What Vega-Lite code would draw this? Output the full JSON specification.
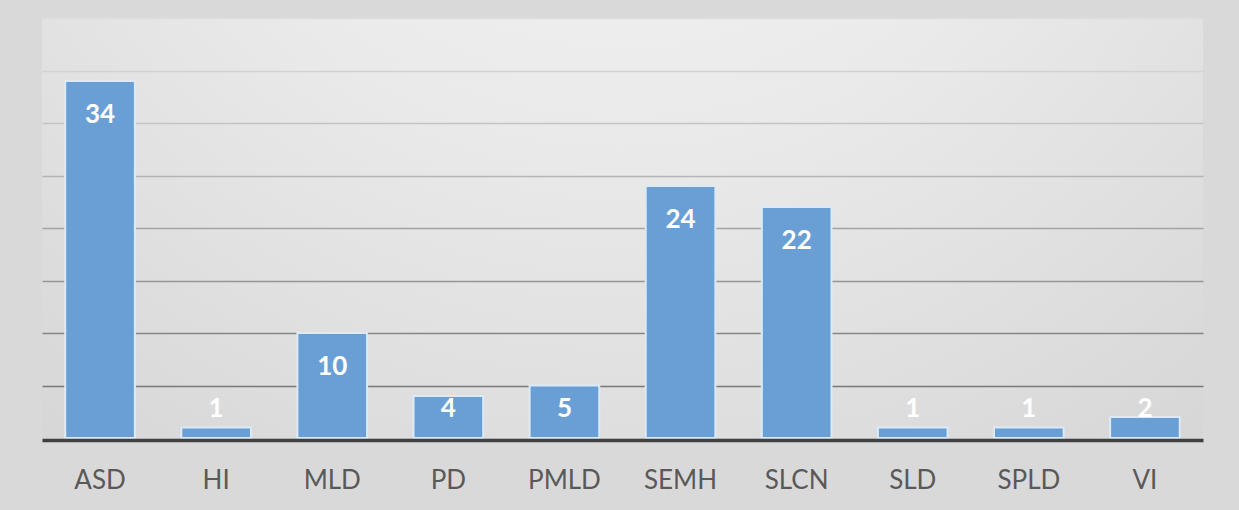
{
  "$schema": "https://vega.github.io/schema/vega-lite/v6.json",
  "width": 1161,
  "height": 420,
  "autosize": {"type": "none"},
  "padding": {"left": 42, "top": 18, "right": 36, "bottom": 72},
  "background": "#d9d9d9",
  "view": {
    "stroke": null,
    "fill": {"expr": "{gradient: 'radial', x1: 0.5, y1: 0, r1: 0, x2: 0.5, y2: 0, r2: 1.05, stops: [{offset: 0, color: '#f8f8f8'}, {offset: 0.4, color: '#eaeaea'}, {offset: 1, color: '#cdcdcd'}]}"}
  },
  "data": {
    "values": [
      {"category": "ASD", "value": 34},
      {"category": "HI", "value": 1},
      {"category": "MLD", "value": 10},
      {"category": "PD", "value": 4},
      {"category": "PMLD", "value": 5},
      {"category": "SEMH", "value": 24},
      {"category": "SLCN", "value": 22},
      {"category": "SLD", "value": 1},
      {"category": "SPLD", "value": 1},
      {"category": "VI", "value": 2}
    ]
  },
  "encoding": {
    "x": {
      "field": "category",
      "type": "nominal",
      "sort": null,
      "scale": {"paddingInner": 0.4, "paddingOuter": 0.2},
      "axis": {
        "title": null,
        "labelAngle": 0,
        "ticks": false,
        "grid": false,
        "domainColor": "#404040",
        "domainWidth": 3.5,
        "offset": 2,
        "zindex": 1,
        "labelPadding": 27,
        "labelFont": "Lato",
        "labelFontSize": 26,
        "labelColor": "#595959"
      }
    }
  },
  "layer": [
    {
      "mark": {"type": "bar", "fill": "#6a9fd5", "stroke": "#dceaf7", "strokeWidth": 2},
      "encoding": {
        "y": {
          "field": "value",
          "type": "quantitative",
          "scale": {"domain": [0, 40], "nice": false},
          "axis": {
            "title": null,
            "domain": false,
            "ticks": false,
            "labels": false,
            "grid": true,
            "values": [5, 10, 15, 20, 25, 30, 35, 40],
            "gridWidth": 1.6,
            "gridColor": {
              "condition": [
                {"test": "datum.value <= 5", "value": "#797979"},
                {"test": "datum.value <= 10", "value": "#868686"},
                {"test": "datum.value <= 15", "value": "#959595"},
                {"test": "datum.value <= 20", "value": "#a4a4a4"},
                {"test": "datum.value <= 25", "value": "#b4b4b4"},
                {"test": "datum.value <= 30", "value": "#c4c4c4"},
                {"test": "datum.value <= 35", "value": "#d2d2d2"}
              ],
              "value": "#dedede"
            }
          }
        }
      }
    },
    {
      "transform": [{"filter": "datum.value >= 6"}],
      "mark": {"type": "text", "baseline": "alphabetic", "dy": 42, "font": "Lato", "fontWeight": "bold", "fontSize": 26, "fill": "#ffffff"},
      "encoding": {
        "y": {"field": "value", "type": "quantitative"},
        "text": {"field": "value", "type": "quantitative"}
      }
    },
    {
      "transform": [{"filter": "datum.value < 6"}],
      "mark": {"type": "text", "baseline": "alphabetic", "dy": 42, "font": "Lato", "fontWeight": "bold", "fontSize": 26, "fill": "#ffffff"},
      "encoding": {
        "y": {"datum": 6},
        "text": {"field": "value", "type": "quantitative"}
      }
    }
  ]
}
